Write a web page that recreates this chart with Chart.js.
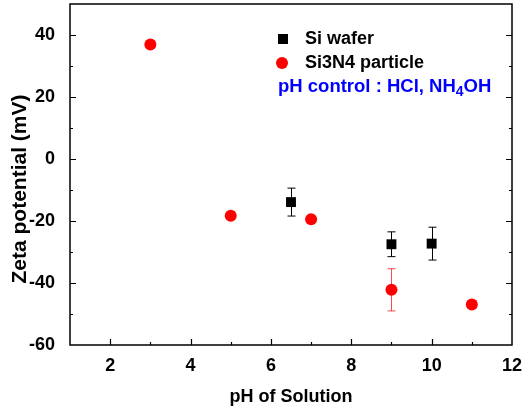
<!DOCTYPE html>
<html>
<head>
<meta charset="utf-8">
<script src="https://cdn.jsdelivr.net/npm/chart.js@4"></script>
<style>
  html, body { margin: 0; padding: 0; background: #fff; }
  #wrap { width: 525px; height: 412px; }
</style>
</head>
<body>
<div id="wrap"><canvas id="myChart"></canvas></div>
<script>
// data
var waferPH = [6.5, 9, 10];
var waferZeta = [-13.9, -27.5, -27.3];
var waferErr = [4.5, 4.0, 5.3];

var particlePH = [3, 5, 7, 9, 11];
var particleZeta = [36.9, -18.3, -19.4, -42.2, -46.9];
var particleErr = [0, 0, 0, 6.8, 1.2];

var seriesNames = ['Si wafer', 'Si3N4 particle'];
var yTitle = 'Zeta potential (mV)';

function toPoints(xs, ys) {
    return xs.map(function (x, i) { return { x: x, y: ys[i] }; });
}

// 誤差線 (drawn behind the markers)
var errorBars = {
    id: 'errorBars',
    beforeDatasetsDraw: function (chart) {
        var ctx = chart.ctx;
        var xs = chart.scales.x, ys = chart.scales.y;
        var sets = [
            { x: waferPH, y: waferZeta, e: waferErr, color: '#000' },
            { x: particlePH, y: particleZeta, e: particleErr, color: 'rgba(255,40,40,0.85)' }
        ];
        ctx.save();
        ctx.lineWidth = 1;
        sets.forEach(function (s) {
            ctx.strokeStyle = s.color;
            s.x.forEach(function (xv, i) {
                if (!s.e[i]) return;
                var px = Math.round(xs.getPixelForValue(xv)) + 0.5;
                var top = ys.getPixelForValue(s.y[i] + s.e[i]);
                var bot = ys.getPixelForValue(s.y[i] - s.e[i]);
                ctx.beginPath();
                ctx.moveTo(px, top); ctx.lineTo(px, bot);
                ctx.moveTo(px - 4, top); ctx.lineTo(px + 4, top);
                ctx.moveTo(px - 4, bot); ctx.lineTo(px + 4, bot);
                ctx.stroke();
            });
        });
        ctx.restore();
    }
};

// 外框與內向刻度
var frame = {
    id: 'frame',
    afterDraw: function (chart) {
        var ctx = chart.ctx, a = chart.chartArea;
        var xs = chart.scales.x, ys = chart.scales.y;
        ctx.save();
        ctx.strokeStyle = '#000';
        ctx.lineWidth = 1.5;
        ctx.strokeRect(a.left, a.top, a.right - a.left, a.bottom - a.top);
        ctx.lineWidth = 1.2;
        ctx.beginPath();
        xs.ticks.forEach(function (t) {
            if (t.value <= 1 || t.value >= 12) return;
            var px = Math.round(xs.getPixelForValue(t.value)) + 0.5;
            var len = t.value % 2 === 0 ? 6 : 3;
            ctx.moveTo(px, a.bottom); ctx.lineTo(px, a.bottom - len);
        });
        ys.ticks.forEach(function (t) {
            if (t.value <= -60 || t.value >= 50) return;
            var py = Math.round(ys.getPixelForValue(t.value)) + 0.5;
            var len = t.value % 20 === 0 ? 6 : 3;
            ctx.moveTo(a.left, py); ctx.lineTo(a.left + len, py);
            ctx.moveTo(a.right, py); ctx.lineTo(a.right - len, py);
        });
        ctx.stroke();

        // y 軸標題 (sits a bit below the axis centre in the original)
        ctx.translate(20, 189);
        ctx.rotate(-Math.PI / 2);
        ctx.textAlign = 'center';
        ctx.textBaseline = 'middle';
        ctx.fillStyle = '#000';
        ctx.font = 'bold 21px "Liberation Sans", Arial, sans-serif';
        ctx.fillText(yTitle, 0, 0);
        ctx.restore();
    }
};

// 自訂圖例
var legendBox = {
    id: 'legendBox',
    afterDraw: function (chart) {
        var ctx = chart.ctx;
        ctx.save();
        ctx.textBaseline = 'middle';
        ctx.fillStyle = '#000';
        ctx.fillRect(278, 34, 10, 10);
        ctx.fillStyle = '#ff0000';
        ctx.beginPath();
        ctx.arc(282, 63, 6, 0, Math.PI * 2);
        ctx.fill();
        ctx.font = 'bold 18px "Liberation Sans", Arial, sans-serif';
        ctx.fillStyle = '#000';
        ctx.fillText(seriesNames[0], 305, 39);
        ctx.fillText(seriesNames[1], 305, 63);

        ctx.fillStyle = '#0000ff';
        var x = 278, y = 87;
        var s1 = 'pH control : HCl, NH';
        ctx.font = 'bold 18.5px "Liberation Sans", Arial, sans-serif';
        ctx.fillText(s1, x, y);
        x += ctx.measureText(s1).width;
        ctx.font = 'bold 14px "Liberation Sans", Arial, sans-serif';
        ctx.fillText('4', x, y + 5);
        x += ctx.measureText('4').width;
        ctx.font = 'bold 18.5px "Liberation Sans", Arial, sans-serif';
        ctx.fillText('OH', x, y);
        ctx.restore();
    }
};

var tickFont = { family: '"Liberation Sans", Arial, sans-serif', size: 18, weight: 'bold' };

var ctx = document.getElementById('myChart').getContext('2d');
var chart = new Chart(ctx, {
    type: 'scatter',
    data: {
        datasets: [{
            label: seriesNames[0],
            data: toPoints(waferPH, waferZeta),
            pointStyle: 'rect',
            pointRadius: 7,
            pointHoverRadius: 7,
            backgroundColor: '#000',
            borderColor: '#000',
            borderWidth: 0
        }, {
            label: seriesNames[1],
            data: toPoints(particlePH, particleZeta),
            pointStyle: 'circle',
            pointRadius: 6,
            pointHoverRadius: 6,
            backgroundColor: '#ff0000',
            borderColor: '#ff0000',
            borderWidth: 0
        }]
    },
    options: {
        responsive: true,
        maintainAspectRatio: false,
        animation: false,
        layout: { autoPadding: false, padding: { top: 4, right: 13, left: 0, bottom: 0 } },
        plugins: {
            legend: { display: false },
            tooltip: { enabled: false }
        },
        scales: {
            x: {
                type: 'linear',
                min: 1,
                max: 12,
                grid: { display: false },
                border: { display: false },
                ticks: {
                    stepSize: 1,
                    autoSkip: false,
                    maxRotation: 0,
                    color: '#000',
                    font: tickFont,
                    padding: 2,
                    callback: function (v) { return v % 2 === 0 ? v : ''; }
                },
                title: {
                    display: true,
                    text: 'pH of Solution',
                    color: '#000',
                    font: { family: '"Liberation Sans", Arial, sans-serif', size: 18, weight: 'bold' },
                    padding: { top: 12 }
                },
                afterFit: function (s) { s.height = 67; s.paddingLeft = 0; s.paddingRight = 0; }
            },
            y: {
                min: -60,
                max: 50,
                grid: { display: false },
                border: { display: false },
                ticks: {
                    stepSize: 10,
                    autoSkip: false,
                    color: '#000',
                    font: tickFont,
                    padding: 7,
                    callback: function (v) { return v % 20 === 0 ? v : ''; }
                },
                title: { display: false },
                afterFit: function (s) { s.width = 70; s.paddingTop = 0; s.paddingBottom = 0; }
            }
        }
    },
    plugins: [errorBars, frame, legendBox]
});
</script>
</body>
</html>
